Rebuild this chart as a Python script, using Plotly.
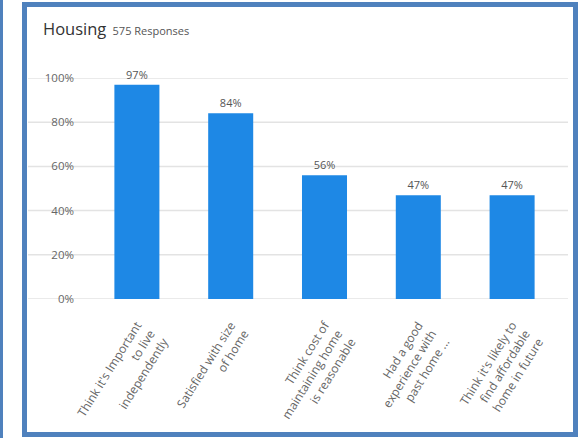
import plotly.graph_objects as go

categories = [
    "Think it's Important<br>to live<br>independently",
    "Satisfied with size<br>of home",
    "Think cost of<br>maintaining home<br>is reasonable",
    "Had a good<br>experience with<br>past home ...",
    "Think it's likely to<br>find affordable<br>home in future",
]
values = [97, 84, 56, 47, 47]
value_labels = ["97%", "84%", "56%", "47%", "47%"]
y_ticks = [0, 20, 40, 60, 80, 100]
title_text = "Housing"
subtitle_text = "575 Responses"

W, H = 581, 438
ML, MR, MT, MB = 90, 22, 78, 139
PW, PH = W - ML - MR, H - MT - MB


def px_x(p):
    return (p - ML) / PW


def px_y(p):
    return 1 - (p - MT) / PH


FONT = "Open Sans, Segoe UI, sans-serif"
BORDER = "#4f81bd"

fig = go.Figure()
fig.add_trace(go.Bar(
    x=list(range(len(categories))),
    y=values,
    text=value_labels,
    textposition="outside",
    textfont=dict(size=11, color="#555555", family=FONT),
    marker=dict(color="#1e88e5", line=dict(width=0)),
    cliponaxis=False,
    hoverinfo="skip",
))

shapes = []
for t in y_ticks:
    shapes.append(dict(type="line", xref="paper", yref="y",
                       x0=px_x(28), x1=px_x(568), y0=t, y1=t,
                       line=dict(color="#e3e3e3", width=1.5), layer="below"))
shapes.append(dict(type="rect", xref="paper", yref="paper",
                   x0=px_x(24.5), x1=px_x(575.5), y0=px_y(4.5), y1=px_y(434.5),
                   line=dict(color=BORDER, width=5), fillcolor="rgba(0,0,0,0)"))
shapes.append(dict(type="rect", xref="paper", yref="paper",
                   x0=px_x(0), x1=px_x(3), y0=px_y(0), y1=px_y(438),
                   line=dict(width=0), fillcolor=BORDER))

fig.update_layout(
    width=W, height=H,
    margin=dict(l=ML, r=MR, t=MT, b=MB, pad=0, autoexpand=False),
    paper_bgcolor="white", plot_bgcolor="white",
    showlegend=False,
    bargap=0.52,
    font=dict(family=FONT, color="#666666"),
    shapes=shapes,
    xaxis=dict(
        tickmode="array",
        tickvals=list(range(len(categories))),
        ticktext=categories,
        tickangle=-58,
        tickfont=dict(size=12, color="#666666", family=FONT),
        showgrid=False, zeroline=False, showline=False, ticks="",
        ticklabelstandoff=16,
        automargin=False,
        range=[-0.5, len(categories) - 0.5],
        fixedrange=True,
    ),
    yaxis=dict(
        range=[0, 100],
        tickvals=y_ticks,
        ticktext=[f"{t}%" for t in y_ticks],
        tickfont=dict(size=11.5, color="#666666", family=FONT),
        showgrid=False, zeroline=False, showline=False, ticks="",
        ticklabelstandoff=15,
        automargin=False,
        fixedrange=True,
    ),
    annotations=[dict(
        xref="paper", yref="paper", x=px_x(41), y=px_y(29),
        xanchor="left", yanchor="middle", showarrow=False,
        text=f"<span style='font-size:16.5px;color:#333333'>{title_text}</span>"
             f"  <span style='font-size:11px;color:#555555'>{subtitle_text}</span>",
        font=dict(family=FONT),
    )],
)

fig.write_html(
    "out.html",
    config={"displayModeBar": False},
    post_script="document.body.style.margin='0';document.body.style.overflow='hidden';",
)
